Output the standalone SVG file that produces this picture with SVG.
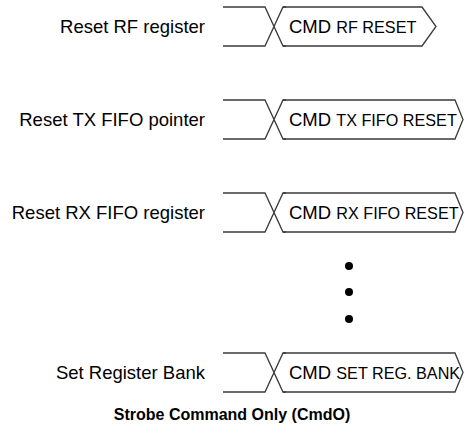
<svg xmlns="http://www.w3.org/2000/svg" width="464" height="430" viewBox="0 0 464 430">
<style>
.lbl{font-family:"Liberation Sans",Arial,sans-serif;font-size:18.5px;fill:#000;text-anchor:end}
.cmd{font-family:"Liberation Sans",Arial,sans-serif;font-size:18.5px;fill:#000}
.sm{font-size:16.2px}
.wave{fill:none;stroke:#3a3a3a;stroke-width:1.3}
.title{font-family:"Liberation Sans",Arial,sans-serif;font-size:16px;font-weight:bold;fill:#000;text-anchor:middle}
</style>
<rect width="464" height="430" fill="#fff"/>
<g id="connectors">
<g id="wave1" transform="translate(0,7)">
<path class="wave" d="M223,0H265L283,39H286M223,39H265L283,0H286"/>
<path class="wave" d="M283,0H422L436,19.5L422,39H283"/>
</g>
<g id="wave2" transform="translate(0,100)">
<path class="wave" d="M223,0H265L283,39H286M223,39H265L283,0H286"/>
<path class="wave" d="M283,0H455L463,19.5L455,39H283"/>
</g>
<g id="wave3" transform="translate(0,193)">
<path class="wave" d="M223,0H265L283,39H286M223,39H265L283,0H286"/>
<path class="wave" d="M283,0H455L463,19.5L455,39H283"/>
</g>
<g id="wave4" transform="translate(0,353)">
<path class="wave" d="M223,0H265L283,39H286M223,39H265L283,0H286"/>
<path class="wave" d="M283,0H455L463,19.5L455,39H283"/>
</g>
</g>
<g id="row1">
<text class="lbl" x="205" y="33">Reset RF register</text>
<text class="cmd" x="289" y="33">CMD <tspan class="sm">RF RESET</tspan></text>
</g>
<g id="row2">
<text class="lbl" x="205" y="126">Reset TX FIFO pointer</text>
<text class="cmd" x="289" y="126">CMD <tspan class="sm">TX FIFO RESET</tspan></text>
</g>
<g id="row3">
<text class="lbl" x="205" y="219">Reset RX FIFO register</text>
<text class="cmd" x="289" y="219">CMD <tspan class="sm">RX FIFO RESET</tspan></text>
</g>
<g id="dots">
<circle cx="349" cy="266" r="4"/>
<circle cx="349" cy="292" r="4"/>
<circle cx="349" cy="319" r="4"/>
</g>
<g id="row4">
<text class="lbl" x="205" y="379">Set Register Bank</text>
<text class="cmd" x="289" y="379">CMD <tspan class="sm">SET REG. BANK</tspan></text>
</g>
<text id="title" class="title" x="232" y="420">Strobe Command Only (CmdO)</text>
</svg>
